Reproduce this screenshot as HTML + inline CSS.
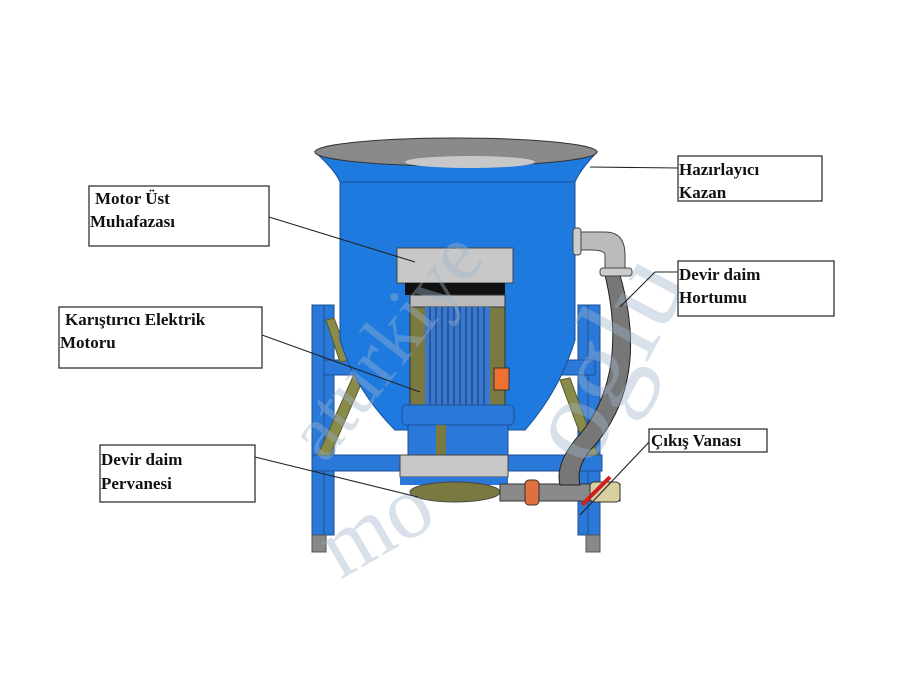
<!DOCTYPE html>
<html><head><meta charset="utf-8"><style>
html,body{margin:0;padding:0;background:#fff;}
svg{display:block}
.t{font-family:"Liberation Serif",serif;font-weight:bold;font-size:17px;fill:#111}
.b{fill:#fff;stroke:#333;stroke-width:1.3}
</style></head><body>
<svg width="900" height="675" viewBox="0 0 900 675" xmlns="http://www.w3.org/2000/svg">
<!-- legs -->
<g fill="#2a78d8" stroke="#1a4f96" stroke-width="1">
<rect x="312" y="305" width="12" height="235"/>
<rect x="324" y="305" width="10" height="230"/>
<rect x="578" y="305" width="10" height="230"/>
<rect x="588" y="305" width="12" height="235"/>
<rect x="312" y="455" width="290" height="16"/>
<rect x="324" y="360" width="40" height="15"/>
<rect x="555" y="360" width="40" height="15"/>
</g>
<g fill="#8a8a4a" stroke="#5a5a2a">
<polygon points="318,455 330,455 365,375 355,372"/>
<polygon points="588,455 598,455 570,378 560,380"/>
<polygon points="326,320 334,318 350,360 340,362"/>
</g>
<g fill="#888" stroke="#555"><rect x="312" y="535" width="14" height="17"/><rect x="586" y="535" width="14" height="17"/></g>
<!-- tank body -->
<path d="M340 180 L575 180 L575 340 Q560 390 525 430 L395 430 Q355 390 340 340 Z" fill="#1f7ae0" stroke="#1a4f96"/>
<path d="M315 152 Q335 170 340 182 L575 182 Q580 170 597 152 Z" fill="#1f7ae0" stroke="#1a4f96"/>
<ellipse cx="456" cy="152" rx="141" ry="14" fill="#8a8a8a" stroke="#333"/>
<ellipse cx="470" cy="162" rx="65" ry="6" fill="#c8c8c8"/>
<!-- motor cover -->
<rect x="397" y="248" width="116" height="35" fill="#c8c8c8" stroke="#444"/>
<rect x="405" y="283" width="100" height="12" fill="#111"/>
<!-- motor -->
<rect x="410" y="295" width="95" height="12" fill="#bbb" stroke="#333"/>
<rect x="410" y="307" width="95" height="100" fill="#7a7a40" stroke="#333"/>
<rect x="425" y="307" width="65" height="100" fill="#3a78d0"/>
<g stroke="#1c3f7a" stroke-width="1.2">
<line x1="430" y1="307" x2="430" y2="405"/><line x1="436" y1="307" x2="436" y2="405"/><line x1="442" y1="307" x2="442" y2="405"/><line x1="448" y1="307" x2="448" y2="405"/><line x1="454" y1="307" x2="454" y2="405"/><line x1="460" y1="307" x2="460" y2="405"/><line x1="466" y1="307" x2="466" y2="405"/><line x1="472" y1="307" x2="472" y2="405"/><line x1="478" y1="307" x2="478" y2="405"/><line x1="484" y1="307" x2="484" y2="405"/>
</g>
<rect x="494" y="368" width="15" height="22" fill="#f07030" stroke="#333"/>
<rect x="402" y="405" width="112" height="20" rx="4" fill="#2a78d8" stroke="#1a4f96"/>
<rect x="408" y="425" width="100" height="30" fill="#2a78d8" stroke="#1a4f96"/>
<rect x="436" y="425" width="10" height="30" fill="#7a7a40"/>
<rect x="400" y="455" width="108" height="22" fill="#c8c8c8" stroke="#444"/>
<rect x="400" y="477" width="108" height="8" fill="#2a78d8"/>
<ellipse cx="455" cy="492" rx="45" ry="10" fill="#7a7a40" stroke="#444"/>
<!-- pipes -->
<rect x="500" y="484" width="120" height="17" fill="#8a8a8a" stroke="#333"/>
<rect x="525" y="480" width="14" height="25" rx="4" fill="#e07040" stroke="#333"/>
<rect x="590" y="482" width="30" height="20" rx="4" fill="#d8d0a0" stroke="#333"/>
<path d="M605 275 Q630 380 575 440 Q555 465 560 485 L580 485 Q575 465 595 445 Q650 380 620 275 Z" fill="#777" stroke="#222"/>
<path d="M575 232 L605 232 Q625 232 625 255 L625 270 L605 270 L605 255 Q605 250 590 250 L575 250 Z" fill="#bbb" stroke="#444"/>
<rect x="600" y="268" width="32" height="8" rx="3" fill="#ccc" stroke="#444"/>
<rect x="573" y="228" width="8" height="27" rx="3" fill="#ccc" stroke="#444"/>
<line x1="582" y1="505" x2="610" y2="477" stroke="#d02020" stroke-width="4"/>
<!-- watermark overlay -->
<g fill="#9fb4cc" opacity="0.4" font-family="Liberation Serif,serif">
<text x="325" y="465" font-size="80" transform="rotate(-52 325 465)">aturkiye</text>
<text x="590" y="470" font-size="120" transform="rotate(-62 590 470)">oglu</text>
<text x="340" y="580" font-size="90" transform="rotate(-30 340 580)">mo</text>
</g>
<!-- leaders -->
<g stroke="#222" stroke-width="1.1" fill="none">
<line x1="269" y1="217" x2="415" y2="262"/>
<line x1="262" y1="335" x2="420" y2="392"/>
<line x1="255" y1="457" x2="418" y2="497"/>
<line x1="590" y1="167" x2="678" y2="168"/>
<line x1="620" y1="307" x2="655" y2="272"/><line x1="655" y1="272" x2="678" y2="272"/>
<line x1="580" y1="515" x2="651" y2="440"/>
</g>
<!-- label boxes -->
<rect class="b" x="89" y="186" width="180" height="60"/>
<text class="t" x="95" y="204">Motor Üst</text><text class="t" x="90" y="227">Muhafazası</text>
<rect class="b" x="59" y="307" width="203" height="61"/>
<text class="t" x="65" y="325">Karıştırıcı Elektrik</text><text class="t" x="60" y="348">Motoru</text>
<rect class="b" x="100" y="445" width="155" height="57"/>
<text class="t" x="101" y="465">Devir daim</text><text class="t" x="101" y="489">Pervanesi</text>
<rect class="b" x="678" y="156" width="144" height="45"/>
<text class="t" x="679" y="175">Hazırlayıcı</text><text class="t" x="679" y="198">Kazan</text>
<rect class="b" x="678" y="261" width="156" height="55"/>
<text class="t" x="679" y="280">Devir daim</text><text class="t" x="679" y="303">Hortumu</text>
<rect class="b" x="649" y="429" width="118" height="23"/>
<text class="t" x="651" y="446">Çıkış Vanası</text>
</svg>
</body></html>
